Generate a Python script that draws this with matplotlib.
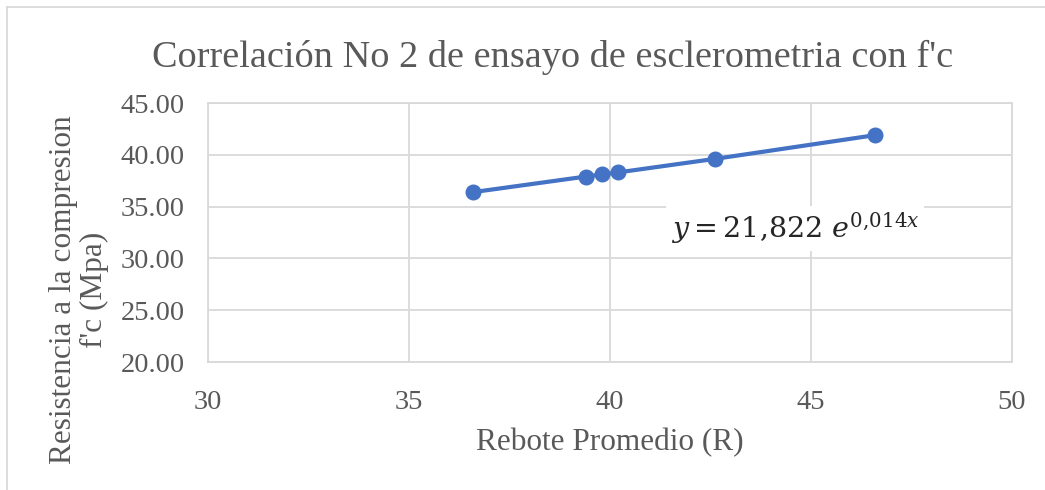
import matplotlib.pyplot as plt
from matplotlib.lines import Line2D

# Rebote promedio (R) vs resistencia f'c (MPa)
rebote = [36.6, 39.4, 39.8, 40.2, 42.6, 46.6]
resistencia = [36.4, 37.9, 38.1, 38.3, 39.6, 41.9]

x_ticks = [30, 35, 40, 45, 50]
y_ticks = [20, 25, 30, 35, 40, 45]

title = "Correlación No 2 de ensayo de esclerometria con f'c"
x_label = "Rebote Promedio (R)"
y_label = "Resistencia a la compresion\nf'c (Mpa)"
equation = r"$y = 21{,}822\ e^{0{,}014x}$"


def main():
    plt.rcParams["font.family"] = ["Liberation Serif", "DejaVu Serif"]
    plt.rcParams["mathtext.fontset"] = "dejavuserif"

    text_color = "#595959"
    grid_color = "#D9D9D9"
    blue = "#4472C4"

    fig = plt.figure(figsize=(10.45, 4.90), dpi=100)
    ax = fig.add_axes([208 / 1045, 1 - 362 / 490, (1012 - 208) / 1045, (362 - 103) / 490])

    ax.plot(rebote, resistencia, color=blue, linewidth=3, marker="o",
            markersize=10.5, zorder=3)

    ax.set_xlim(30, 50)
    ax.set_ylim(20, 45)
    ax.set_xticks(x_ticks)
    ax.set_yticks(y_ticks)
    ax.set_xticklabels([str(t) for t in x_ticks])
    ax.set_yticklabels([f"{t:.2f}" for t in y_ticks])
    ax.tick_params(axis="both", length=0, labelsize=20.5, colors=text_color)
    ax.tick_params(axis="y", pad=17)
    ax.tick_params(axis="x", pad=20)

    ax.grid(True, color=grid_color, linewidth=1.3)
    ax.set_axisbelow(True)
    for spine in ax.spines.values():
        spine.set_color(grid_color)
        spine.set_linewidth(1.3)

    ax.text(44.6, 32.9, equation, fontsize=20.5, color="#262626",
            ha="center", va="center", zorder=4,
            bbox=dict(facecolor="white", edgecolor="none", pad=3))

    fig.text(0.529, 0.882, title, fontsize=27.5, color=text_color,
             ha="center", va="center")
    fig.text(610 / 1045, 1 - 443 / 490, x_label, fontsize=22.5, color=text_color,
             ha="center", va="center")
    fig.text(79 / 1045, 1 - 290 / 490, y_label, fontsize=22.5, color=text_color,
             ha="center", va="center", rotation=90, linespacing=1.1)

    # outer chart border (top and left visible)
    fig.add_artist(Line2D([7 / 1045, 1], [1 - 7 / 490, 1 - 7 / 490],
                          transform=fig.transFigure, color=grid_color, linewidth=1.3))
    fig.add_artist(Line2D([7 / 1045, 7 / 1045], [0, 1 - 7 / 490],
                          transform=fig.transFigure, color=grid_color, linewidth=1.3))

    fig.savefig("out.png", dpi=100, facecolor="white")
    plt.close(fig)


if __name__ == "__main__":
    main()
